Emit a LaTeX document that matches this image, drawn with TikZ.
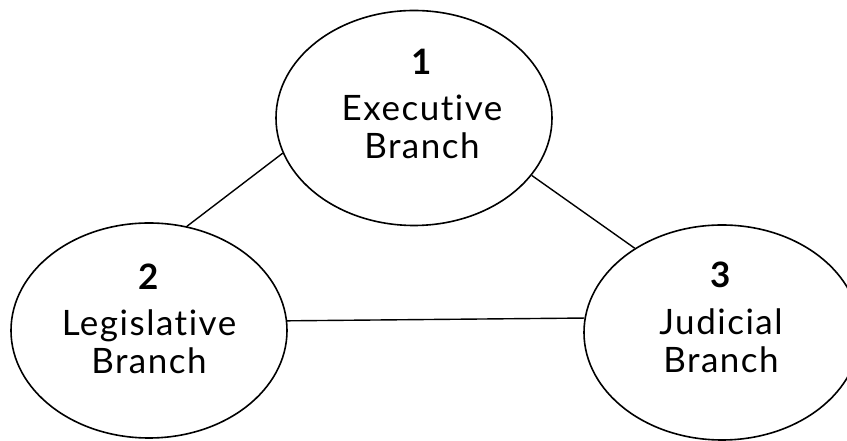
\documentclass[tikz,border=0pt]{standalone}
\usepackage{fontspec}
\setmainfont{Lato}[Ligatures={NoCommon,NoRequired,NoContextual},LetterSpace=4.3]
\usetikzlibrary{shapes.geometric}
\begin{document}
\begin{tikzpicture}[x=1pt,y=1pt,
  branch/.style={draw=black, line width=1.6pt, ellipse, minimum width=276pt, minimum height=215pt, inner sep=0pt},
  btext/.style={align=center, anchor=north, inner sep=0pt, font=\fontsize{35}{38}\selectfont},
  link/.style={draw=black, line width=1.4pt}]
\useasboundingbox (0,0) rectangle (847,441);
\node[branch] (exec) at (414,323) {};
\node[branch] (leg) at (149,110.5) {};
\node[branch] (jud) at (722,108.5) {};
\node[btext] (exectext) at (422,392) {\textbf{1}\\[8pt]Executive\\Branch};
\node[btext] (legtext) at (149,177) {\textbf{2}\\[8pt]Legislative\\Branch};
\node[btext] (judtext) at (721,179) {\textbf{3}\\[9pt]Judicial\\Branch};
\draw[link] (exec.195.6) -- (leg.70.4);
\draw[link] (exec.-26) -- (jud.136.5);
\draw[link] (leg.4.4) -- (jud.174.8);
\end{tikzpicture}
\end{document}
